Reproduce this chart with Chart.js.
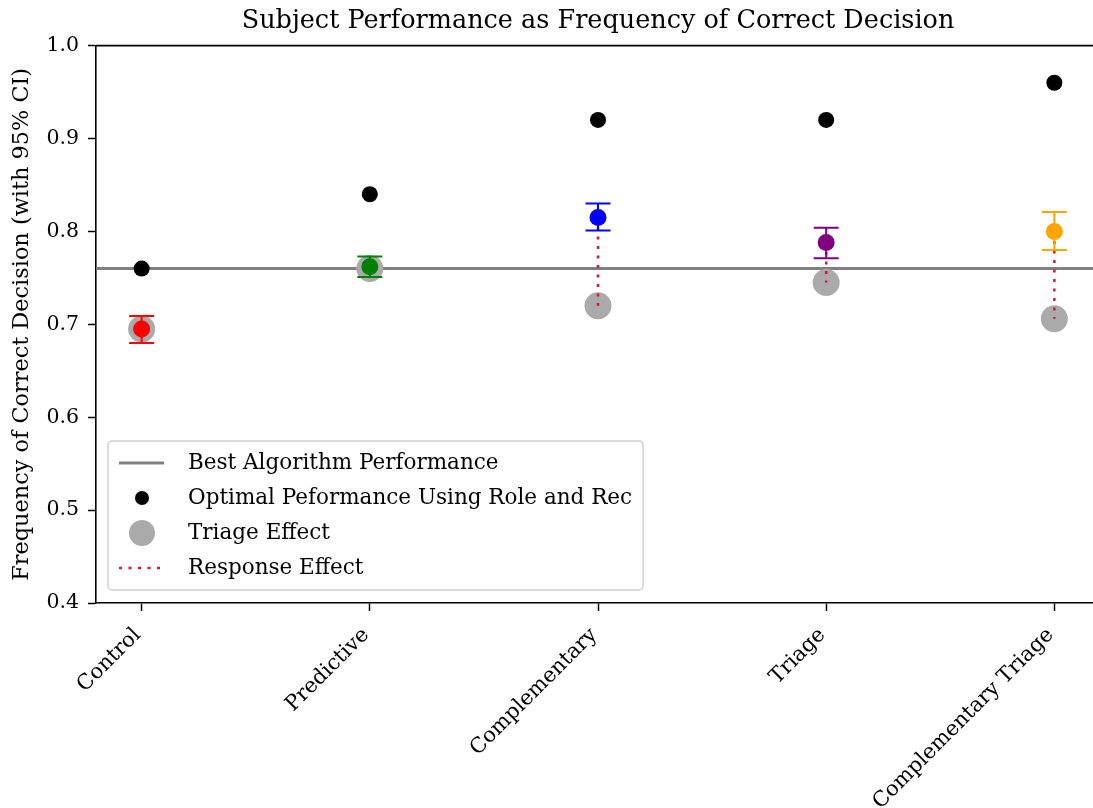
<!DOCTYPE html>
<html>
<head>
<meta charset="utf-8">
<script src="https://cdn.jsdelivr.net/npm/chart.js@4/dist/chart.umd.min.js"></script>
<style>
  html, body { margin: 0; padding: 0; overflow: hidden; background: #fff; }
</style>
</head>
<body>
<canvas id="chart" width="1100" height="808"></canvas>
<script>
// Values
const categories = ['Control', 'Predictive', 'Complementary', 'Triage', 'Complementary Triage'];
const pointColors = ['red', 'green', 'blue', 'purple', 'orange'];
const subjectScores = [0.695, 0.762, 0.815, 0.788, 0.800];
const ciLow = [0.680, 0.751, 0.801, 0.771, 0.780];
const ciHigh = [0.709, 0.773, 0.830, 0.804, 0.821];
const optimalScores = [0.760, 0.840, 0.920, 0.920, 0.960];
const triageScores = [0.695, 0.760, 0.720, 0.745, 0.706];
const bestAlgorithm = 0.760;
const yTicks = [0.4, 0.5, 0.6, 0.7, 0.8, 0.9, 1.0];

const serif = "'DejaVu Serif', 'Liberation Serif', serif";
Chart.defaults.font.family = serif;
Chart.defaults.color = '#000';

const xMin = -0.2;
const xMax = categories.length - 1 + 0.2;

// dotted segments from subject score down to triage score, broken by nulls
const responseSegments = [];
categories.forEach((c, i) => {
  responseSegments.push({ x: i, y: subjectScores[i] });
  responseSegments.push({ x: i, y: triageScores[i] });
  responseSegments.push({ x: i, y: null });
});

// error bars drawn just before the coloured points
const errorBars = {
  id: 'errorBars',
  beforeDatasetDraw(chart, args) {
    if (chart.data.datasets[args.index].key !== 'subject') return;
    const { ctx, scales: { x, y } } = chart;
    ctx.save();
    ctx.lineWidth = 2;
    categories.forEach((c, i) => {
      const px = x.getPixelForValue(i);
      const top = y.getPixelForValue(ciHigh[i]);
      const bot = y.getPixelForValue(ciLow[i]);
      ctx.strokeStyle = pointColors[i];
      ctx.beginPath();
      ctx.moveTo(px, top); ctx.lineTo(px, bot);
      ctx.moveTo(px - 12.5, top); ctx.lineTo(px + 12.5, top);
      ctx.moveTo(px - 12.5, bot); ctx.lineTo(px + 12.5, bot);
      ctx.stroke();
    });
    ctx.restore();
  }
};

// top / right spines
const frame = {
  id: 'frame',
  afterDraw(chart) {
    const { ctx, chartArea: a } = chart;
    ctx.save();
    ctx.strokeStyle = '#000';
    ctx.lineWidth = 1.6;
    ctx.beginPath();
    ctx.moveTo(a.left, a.top); ctx.lineTo(a.right, a.top); ctx.lineTo(a.right, a.bottom);
    ctx.stroke();
    ctx.restore();
  }
};

// legend box in the lower left of the plot
const boxLegend = {
  id: 'boxLegend',
  afterDraw(chart) {
    const { ctx, chartArea: a } = chart;
    const items = chart.data.datasets.filter(d => d.legendKind)
      .sort((p, q) => p.legendOrder - q.legendOrder);
    ctx.save();
    ctx.font = '21.5px ' + serif;
    const textW = Math.max(...items.map(d => ctx.measureText(d.label).width));
    const left = a.left + 12, rowH = 35;
    const h = 22 + rowH * (items.length - 1) + 22;
    const top = a.bottom - 13 - h;
    const w = 80 + textW + 11;
    ctx.fillStyle = 'rgba(255,255,255,0.8)';
    ctx.strokeStyle = '#d0d0d0';
    ctx.lineWidth = 1.5;
    ctx.beginPath();
    ctx.roundRect(left, top, w, h, 4);
    ctx.fill(); ctx.stroke();
    items.forEach((d, i) => {
      const cy = top + 22 + rowH * i;
      const hx = left + 34;
      ctx.save();
      if (d.legendKind === 'line') {
        ctx.strokeStyle = d.borderColor;
        ctx.lineWidth = d.borderWidth;
        ctx.setLineDash(d.borderDash || []);
        ctx.beginPath(); ctx.moveTo(left + 11, cy); ctx.lineTo(left + 56, cy); ctx.stroke();
      } else {
        ctx.fillStyle = d.backgroundColor;
        ctx.beginPath(); ctx.arc(hx, cy, d.legendRadius, 0, Math.PI * 2); ctx.fill();
      }
      ctx.restore();
      ctx.fillStyle = '#000';
      ctx.textBaseline = 'middle';
      ctx.fillText(d.label, left + 80, cy);
    });
    ctx.restore();
  }
};

new Chart(document.getElementById('chart'), {
  data: {
    datasets: [
      {
        type: 'scatter', key: 'optimal', label: 'Optimal Peformance Using Role and Rec',
        legendKind: 'dot', legendOrder: 2, legendRadius: 7,
        data: categories.map((c, i) => ({ x: i, y: optimalScores[i] })),
        backgroundColor: '#000', pointRadius: 8, borderWidth: 0, order: 1
      },
      {
        type: 'scatter', key: 'subject', label: 'Subject',
        data: categories.map((c, i) => ({ x: i, y: subjectScores[i] })),
        backgroundColor: pointColors, pointRadius: 8.5, borderWidth: 0, order: 2
      },
      {
        type: 'line', key: 'response', label: 'Response Effect',
        legendKind: 'line', legendOrder: 4,
        data: responseSegments, spanGaps: false,
        borderColor: '#dc143c', borderWidth: 2.5, borderDash: [3, 6.5],
        pointRadius: 0, order: 4
      },
      {
        type: 'scatter', key: 'triage', label: 'Triage Effect',
        legendKind: 'dot', legendOrder: 3, legendRadius: 13,
        data: categories.map((c, i) => ({ x: i, y: triageScores[i] })),
        backgroundColor: '#aaaaaa', pointRadius: 13.5, borderWidth: 0, order: 5
      },
      {
        type: 'line', key: 'best', label: 'Best Algorithm Performance',
        legendKind: 'line', legendOrder: 1,
        data: [{ x: xMin, y: bestAlgorithm }, { x: xMax, y: bestAlgorithm }],
        borderColor: '#808080', borderWidth: 3, pointRadius: 0, order: 6
      }
    ]
  },
  options: {
    responsive: false,
    animation: false,
    layout: { padding: 0, autoPadding: false },
    plugins: {
      legend: { display: false },
      tooltip: { enabled: false },
      title: {
        display: true, fullSize: false,
        text: 'Subject Performance as Frequency of Correct Decision',
        font: { size: 25.5, weight: 'normal' },
        padding: { top: 6, bottom: 9 }
      }
    },
    scales: {
      x: {
        type: 'linear', min: xMin, max: xMax,
        afterBuildTicks: s => { s.ticks = categories.map((c, i) => ({ value: i })); },
        afterFit: s => { s.height = 205; },
        ticks: {
          callback: v => categories[v],
          autoSkip: false, maxRotation: 45, minRotation: 45,
          font: { size: 21 }, padding: 12, labelOffset: -4
        },
        grid: { drawOnChartArea: false, tickLength: 8, tickColor: '#000', tickWidth: 1.5 },
        border: { display: true, color: '#000', width: 1.6 }
      },
      y: {
        min: 0.4, max: 1.0,
        afterBuildTicks: s => { s.ticks = yTicks.map(v => ({ value: v })); },
        afterFit: s => { s.width = 96; },
        ticks: { callback: v => v.toFixed(1), font: { size: 20.5 }, padding: 9 },
        grid: { drawOnChartArea: false, tickLength: 8, tickColor: '#000', tickWidth: 1.5 },
        border: { display: true, color: '#000', width: 1.6 },
        title: {
          display: true, text: 'Frequency of Correct Decision (with 95% CI)',
          font: { size: 22.4 }, padding: { top: 8.5, bottom: 0 }
        }
      }
    }
  },
  plugins: [errorBars, frame, boxLegend]
});
</script>
</body>
</html>
